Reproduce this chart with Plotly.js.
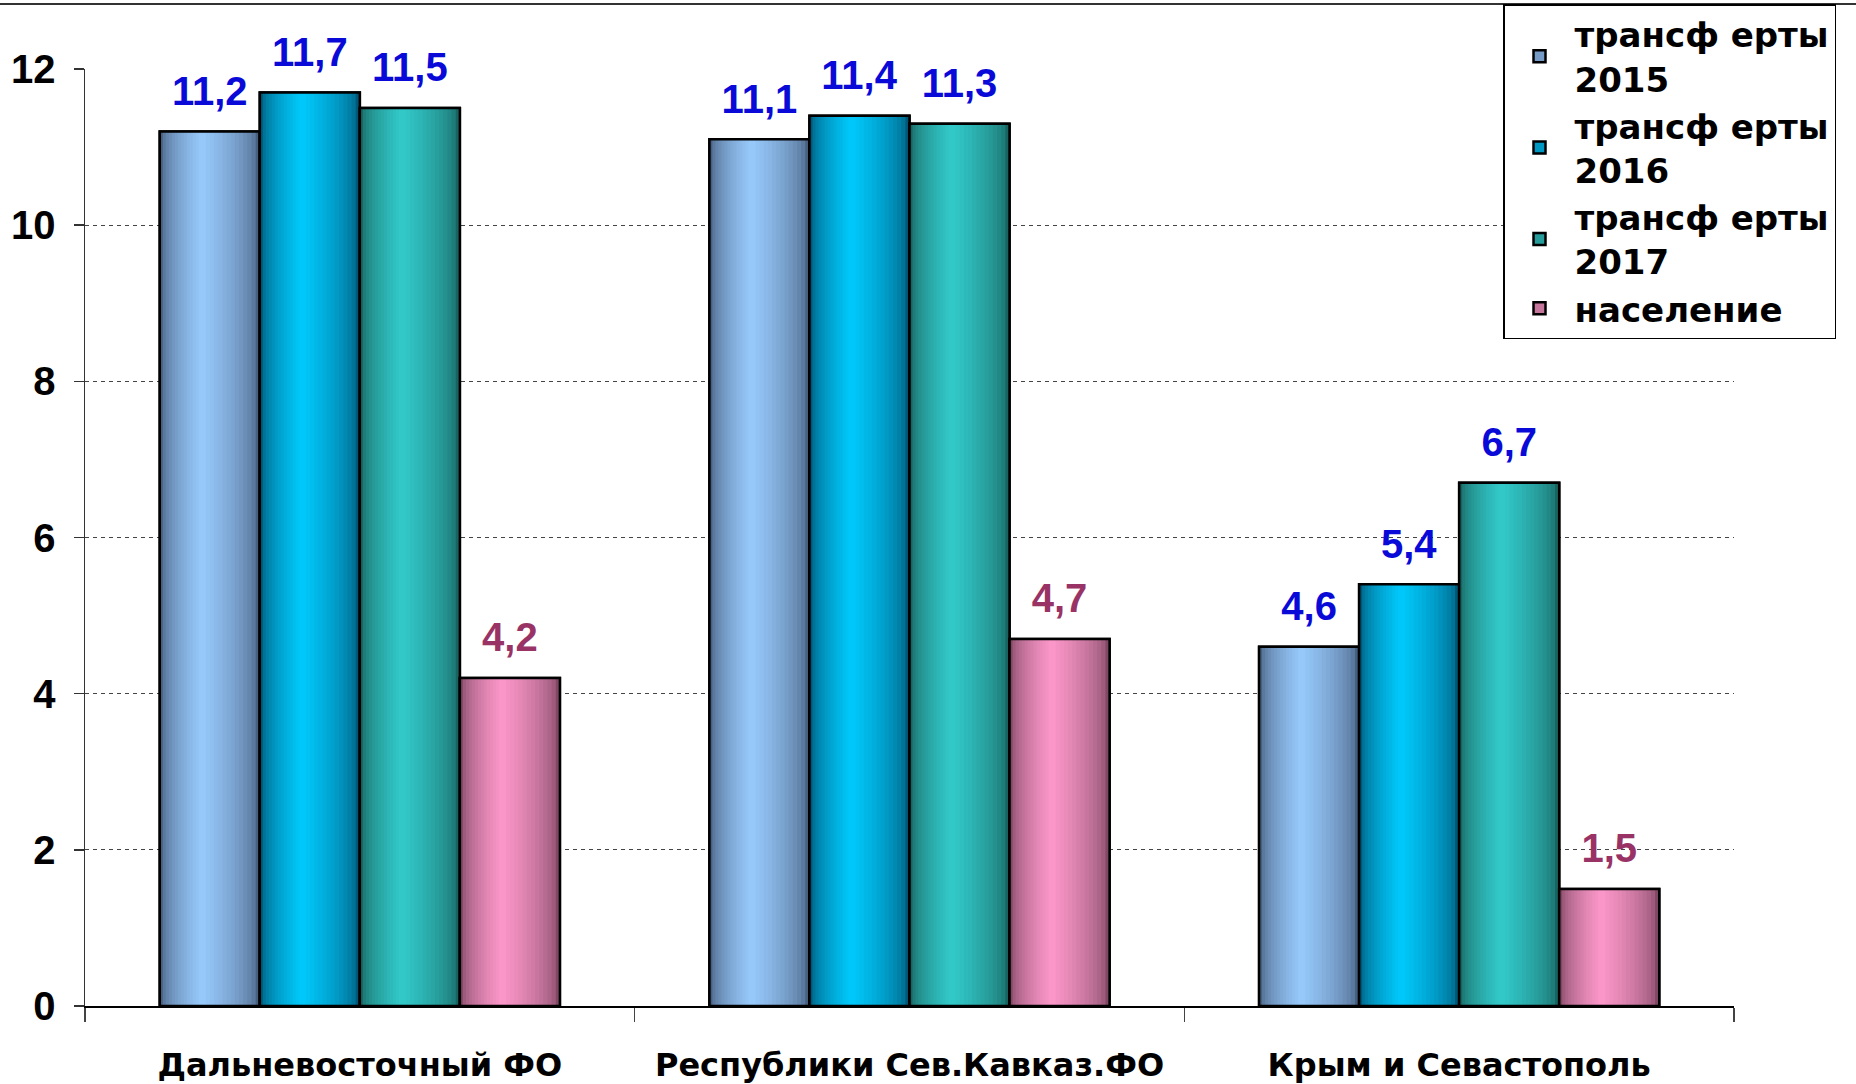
<!DOCTYPE html>
<html>
<head>
<meta charset="utf-8">
<script src="https://cdn.plot.ly/plotly-3.0.1.min.js"></script>
<style>html,body{margin:0;padding:0;background:#fff;}#chart{width:1856px;height:1084px;}</style>
</head>
<body>
<div id="chart"></div>
<script>
// ---- data ----
var categories = ['Дальневосточный ФО', 'Республики Сев.Кавказ.ФО', 'Крым и Севастополь'];
var seriesNames = ['трансф ерты<br>2015', 'трансф ерты<br>2016', 'трансф ерты<br>2017', 'население'];
var transfers2015 = [11.2, 11.1, 4.6];
var transfers2016 = [11.7, 11.4, 5.4];
var transfers2017 = [11.5, 11.3, 6.7];
var population = [4.2, 4.7, 1.5];
var yTicks = [0, 2, 4, 6, 8, 10, 12];

// ---- styles ----
var seriesValues = [transfers2015, transfers2016, transfers2017, population];
var edgeColors = [[72, 96, 128], [0, 88, 120], [24, 100, 96], [128, 72, 100]];
var peakColors = [[153, 204, 255], [0, 204, 255], [51, 204, 204], [255, 153, 204]];
var labelColors = ['#0a0ad8', '#0a0ad8', '#0a0ad8', '#993366'];
var groupWidth = 0.728;
var barW = groupWidth / 4;
var peakFrac = 0.42;
var K = 14;
var labelLift = 0.2; // gap between bar top and its label, in axis units

function mix(a, b, t) {
  return 'rgb(' + a.map(function (v, i) { return Math.round(v + (b[i] - v) * t); }).join(',') + ')';
}
function fmt(v) { return v.toFixed(1).replace('.', ','); }

var traces = [];
seriesValues.forEach(function (vals, s) {
  var L = -groupWidth / 2 + s * barW;
  var R = L + barW;
  var P = L + peakFrac * barW;
  // base (legend) bar
  traces.push({
    type: 'bar', x: categories, y: vals, name: seriesNames[s],
    offset: L, width: barW,
    marker: { color: mix(edgeColors[s], peakColors[s], 0.55), line: { color: '#000', width: 2.5 } },
    hoverinfo: 'skip', showlegend: true, legendrank: s + 1
  });
  // shading bands
  for (var k = 0; k < K; k++) {
    var f = k / K;
    var l = L + f * (P - L);
    var r = R - f * (R - P);
    traces.push({
      type: 'bar', x: categories, y: vals,
      offset: l, width: r - l,
      marker: { color: mix(edgeColors[s], peakColors[s], Math.pow(f, 0.55)), line: { width: 0 } },
      hoverinfo: 'skip', showlegend: false
    });
  }
  // outline
  traces.push({
    type: 'bar', x: categories, y: vals,
    offset: L, width: barW,
    marker: { color: 'rgba(0,0,0,0)', line: { color: '#000', width: 2.5 } },
    hoverinfo: 'skip', showlegend: false
  });
  // value labels (invisible spacer bar sitting on the bar top)
  traces.push({
    type: 'bar', x: categories, base: vals, y: vals.map(function () { return labelLift; }),
    offset: L, width: barW,
    marker: { color: 'rgba(0,0,0,0)', line: { width: 0 } },
    text: vals.map(fmt), textposition: 'outside', cliponaxis: false,
    textfont: { family: 'Liberation Sans, Arial, sans-serif', size: 40, weight: 'bold', color: labelColors[s] },
    hoverinfo: 'skip', showlegend: false
  });
});

var plotTop = 69, plotBottom = 1006, plotLeft = 85, plotRight = 1734;
var plotH = plotBottom - plotTop, plotW = plotRight - plotLeft;

var layout = {
  width: 1856, height: 1084,
  margin: { l: plotLeft, r: 1856 - plotRight, t: plotTop, b: 1084 - plotBottom, autoexpand: false },
  paper_bgcolor: '#fff', plot_bgcolor: '#fff',
  barmode: 'overlay',
  separators: ', ',
  font: { family: 'Liberation Sans, Arial, sans-serif', color: '#000' },
  xaxis: {
    type: 'category', showgrid: false, showline: true, linecolor: '#000', linewidth: 2,
    ticks: 'outside', tickson: 'boundaries', ticklen: 14, tickcolor: '#444', tickwidth: 1.5,
    ticklabelstandoff: 30,
    tickfont: { family: 'DejaVu Sans, sans-serif', size: 32, weight: 'bold', color: '#000' },
    fixedrange: true
  },
  yaxis: {
    range: [0, 12], tickvals: yTicks, ticktext: yTicks.map(String),
    showline: true, linecolor: '#333', linewidth: 1.5,
    ticks: 'outside', ticklen: 10, tickcolor: '#333', tickwidth: 1.5,
    ticklabelstandoff: 10,
    showgrid: true, gridcolor: '#444', gridwidth: 1.3, griddash: '4px,4px',
    zeroline: false,
    tickfont: { family: 'Liberation Sans, Arial, sans-serif', size: 40, weight: 'bold', color: '#000' },
    fixedrange: true
  },
  legend: {
    xref: 'container', yref: 'container', x: 1503 / 1856, y: 1 - 4 / 1084,
    xanchor: 'left', yanchor: 'top',
    bordercolor: '#000', borderwidth: 1.5, bgcolor: '#fff',
    font: { family: 'DejaVu Sans, sans-serif', size: 34, weight: 'bold', color: '#000' },
    traceorder: 'normal', itemwidth: 60
  },
  shapes: [{
    type: 'line', xref: 'paper', yref: 'paper',
    x0: -plotLeft / plotW, x1: 1 + (1856 - plotRight) / plotW,
    y0: 1 + (plotTop - 4) / plotH, y1: 1 + (plotTop - 4) / plotH,
    line: { color: '#333', width: 2 }
  }],
  showlegend: true
};

Plotly.newPlot('chart', traces, layout, { displayModeBar: false, staticPlot: true });
</script>
</body>
</html>
